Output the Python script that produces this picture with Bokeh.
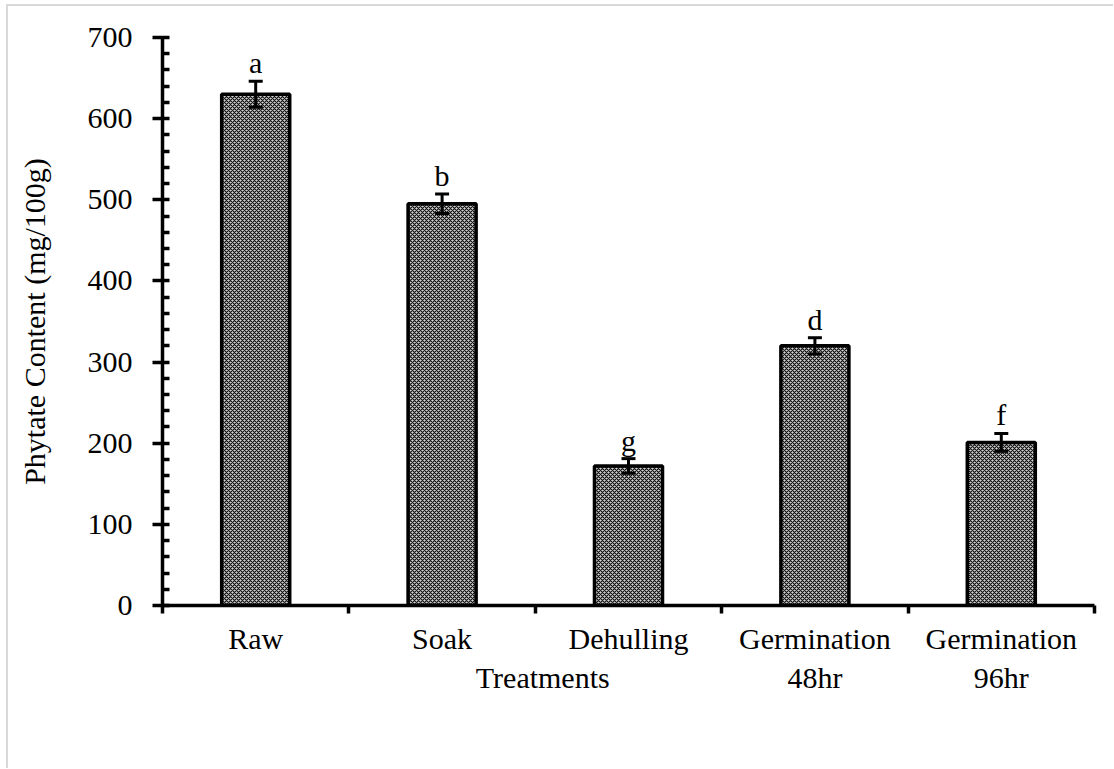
from bokeh.plotting import figure
from bokeh.models import ColumnDataSource, FixedTicker, Whisker, TeeHead
from bokeh.core.properties import value
from bokeh.embed import file_html
from bokeh.resources import INLINE

categories = ["Raw", "Soak", "Dehulling", "Germination\n48hr", "Germination\n96hr"]
phytate = [630, 495, 172, 320, 201]
errors = [16, 12, 9, 10, 11]
letters = ["a", "b", "g", "d", "f"]
y_ticks = [0, 100, 200, 300, 400, 500, 600, 700]
x_title = "Treatments"

FONT = "Liberation Serif"
FS = "30px"

x_pos = [i + 0.5 for i in range(len(categories))]
src = ColumnDataSource(dict(
    x=x_pos, top=phytate,
    upper=[v + e for v, e in zip(phytate, errors)],
    lower=[v - e for v, e in zip(phytate, errors)],
    letter=letters,
))

p = figure(width=1107, height=764, x_range=(0, len(categories)), y_range=(0, 700),
           output_backend="svg", toolbar_location=None,
           min_border_left=154, min_border_top=31, min_border_right=21, min_border_bottom=165)
p.margin = (4, 0, 0, 6)
p.styles = {"border-top": "2px solid #d9d9d9", "border-left": "2px solid #d9d9d9"}
p.outline_line_color = None
p.xgrid.visible = False
p.ygrid.visible = False
p.background_fill_color = "white"
p.border_fill_color = "white"

p.vbar(x="x", top="top", width=0.365, source=src, fill_color="#d2d2d2",
       hatch_pattern="diagonal_cross", hatch_scale=4, hatch_weight=1.2, hatch_color="#111111",
       line_color="black", line_width=3.5)

w = Whisker(source=src, base="x", upper="upper", lower="lower",
            line_color="black", line_width=3, level="overlay",
            upper_head=TeeHead(size=14, line_color="black", line_width=3),
            lower_head=TeeHead(size=14, line_color="black", line_width=3))
p.add_layout(w)

p.text(x="x", y="upper", text="letter", source=src, text_align="center",
       text_baseline="bottom", y_offset=-2, text_font=value(FONT),
       text_font_size=FS, text_color="black")

# y axis
ya = p.yaxis[0]
ya.ticker = FixedTicker(ticks=y_ticks,
                        minor_ticks=[v for v in range(0, 701, 20) if v % 100 != 0])
ya.axis_line_width = 3.5
ya.axis_line_color = "black"
ya.major_tick_line_width = 3.5
ya.major_tick_in = 7
ya.major_tick_out = 10
ya.minor_tick_line_width = 3.5
ya.minor_tick_in = 7
ya.minor_tick_out = 0
ya.major_label_text_font = FONT
ya.major_label_text_font_size = FS
ya.major_label_text_color = "black"
ya.major_label_standoff = 20
ya.axis_label = "Phytate Content (mg/100g)"
ya.axis_label_text_font = FONT
ya.axis_label_text_font_size = FS
ya.axis_label_text_font_style = "normal"
ya.axis_label_text_color = "black"
ya.axis_label_standoff = 34

# x axis: category labels at bar centres, boundary ticks as minor ticks,
# and the axis title as an extra (tick-less) label left of centre
title_x = 2.04
xa = p.xaxis[0]
xa.ticker = FixedTicker(ticks=x_pos + [title_x],
                        minor_ticks=list(range(len(categories) + 1)))
overrides = {x: c for x, c in zip(x_pos, categories)}
overrides[title_x] = " \n" + x_title
xa.major_label_overrides = overrides
xa.axis_line_width = 3.5
xa.axis_line_color = "black"
xa.major_tick_in = 0
xa.major_tick_out = 0
xa.minor_tick_line_width = 3.5
xa.minor_tick_in = 0
xa.minor_tick_out = 8
xa.major_label_text_font = FONT
xa.major_label_text_font_size = FS
xa.major_label_text_color = "black"
xa.major_label_standoff = 8

open("out.html", "w").write(file_html(p, INLINE))
